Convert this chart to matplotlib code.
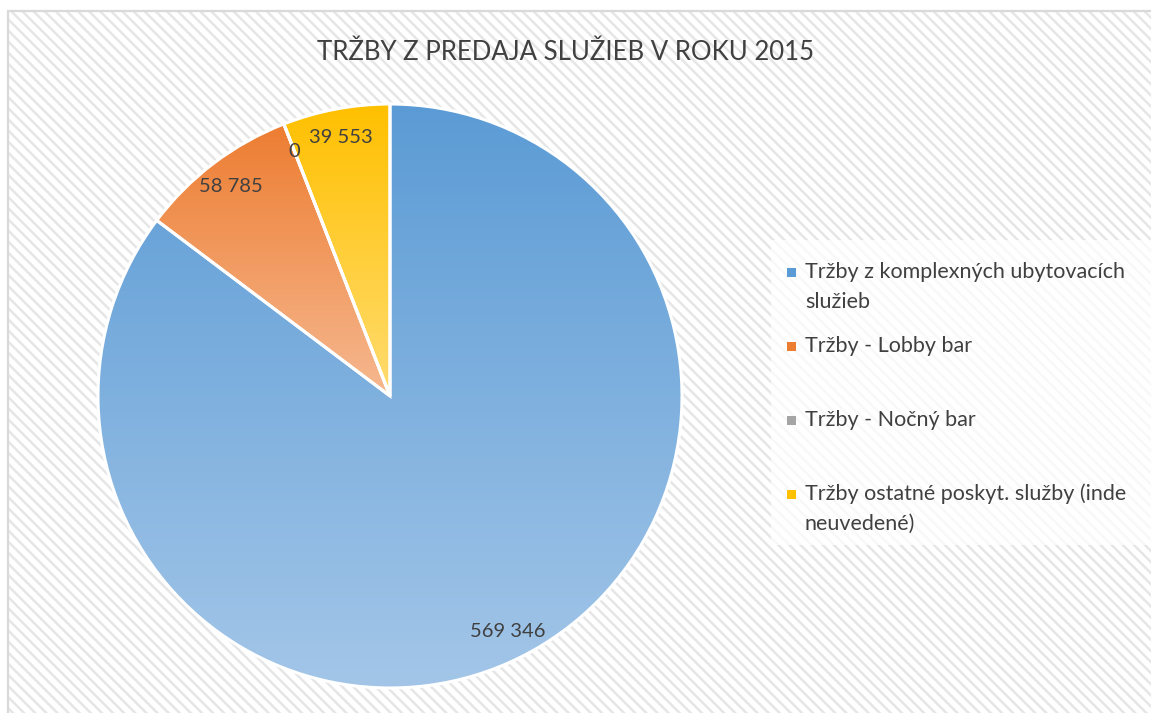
import textwrap
import matplotlib.pyplot as plt
import numpy as np
from matplotlib.colors import LinearSegmentedColormap
from matplotlib.patches import Rectangle

plt.rcParams['font.family'] = ['Lato', 'DejaVu Sans']
plt.rcParams['hatch.linewidth'] = 1.8

title = 'TRŽBY Z PREDAJA SLUŽIEB V ROKU 2015'
categories = ['Tržby z komplexných ubytovacích služieb',
              'Tržby - Lobby bar',
              'Tržby - Nočný bar',
              'Tržby ostatné poskyt. služby (inde neuvedené)']
values = [569346, 58785, 0, 39553]
# gradient top / bottom colours per slice
top_colors = ['#5b9bd5', '#ed7d31', '#a5a5a5', '#ffc000']
bottom_colors = ['#a3c6e8', '#f6b890', '#d0d0d0', '#ffdc70']

W, H = 1151, 713
fig = plt.figure(figsize=(W / 100, H / 100), dpi=100)
text_col = '#404040'

# hatched chart area with light border
bg = Rectangle((8 / W, 0), 1.0, 1 - 11 / H, transform=fig.transFigure,
               facecolor='white', edgecolor='#e6e6e6', hatch='\\\\\\', lw=0,
               zorder=-10)
fig.patches.append(bg)
border = Rectangle((8 / W, -0.01), 1.05, 1 - 11 / H + 0.01, transform=fig.transFigure,
                   facecolor='none', edgecolor='#d9d9d9', lw=1.6, zorder=-9)
fig.patches.append(border)

# pie axes: centre (390, 396) px, radius 292 px
cx, cy, r = 390, 396, 292
lim = 1.2
side = 2 * r * lim
ax = fig.add_axes([(cx - side / 2) / W, (H - cy - side / 2) / H, side / W, side / H])
ax.patch.set_visible(False)

total = sum(values)


def fmt(pct):
    v = int(round(pct * total / 100.0))
    return '{:,}'.format(v).replace(',', ' ')


wedges, texts, autotexts = ax.pie(values, startangle=90, counterclock=False,
                                  autopct=fmt, pctdistance=0.9,
                                  wedgeprops=dict(edgecolor='white', linewidth=2.2),
                                  textprops=dict(color=text_col, fontsize=14.5))

for w, c0, c1 in zip(wedges, top_colors, bottom_colors):
    bb = w.get_path().get_extents()
    if bb.width <= 0 or bb.height <= 0:
        continue
    cmap = LinearSegmentedColormap.from_list('g', [c1, c0])
    grad = np.linspace(0, 1, 256).reshape(-1, 1)
    im = ax.imshow(grad, cmap=cmap, extent=[bb.x0, bb.x1, bb.y0, bb.y1],
                   origin='lower', aspect='auto', zorder=1)
    im.set_clip_path(w)
    w.set_facecolor('none')
    w.set_zorder(2)
for t in autotexts:
    t.set_zorder(3)
ax.set_xlim(-lim, lim)
ax.set_ylim(-lim, lim)
ax.axis('off')

fig.text(566 / W, 1 - 52 / H, title, ha='center', va='center',
         fontsize=18.5, color=text_col)

# legend
fig.patches.append(Rectangle((771 / W, 1 - 545 / H), 0.5, 305 / H,
                             transform=fig.transFigure, facecolor='white',
                             edgecolor='none', alpha=0.75))
row_y = [272, 346, 420, 494]
for lab, c0, c1, y in zip(categories, top_colors, bottom_colors, row_y):
    fig.patches.append(Rectangle((787 / W, 1 - (y + 4.5) / H), 9 / W, 9 / H,
                                 transform=fig.transFigure, facecolor=c0,
                                 edgecolor='none'))
    for i, line in enumerate(textwrap.wrap(lab, 34)):
        fig.text(805 / W, 1 - (y + i * 30) / H, line, ha='left', va='center',
                 fontsize=15.5, color=text_col)

fig.savefig('out.png', dpi=100)
